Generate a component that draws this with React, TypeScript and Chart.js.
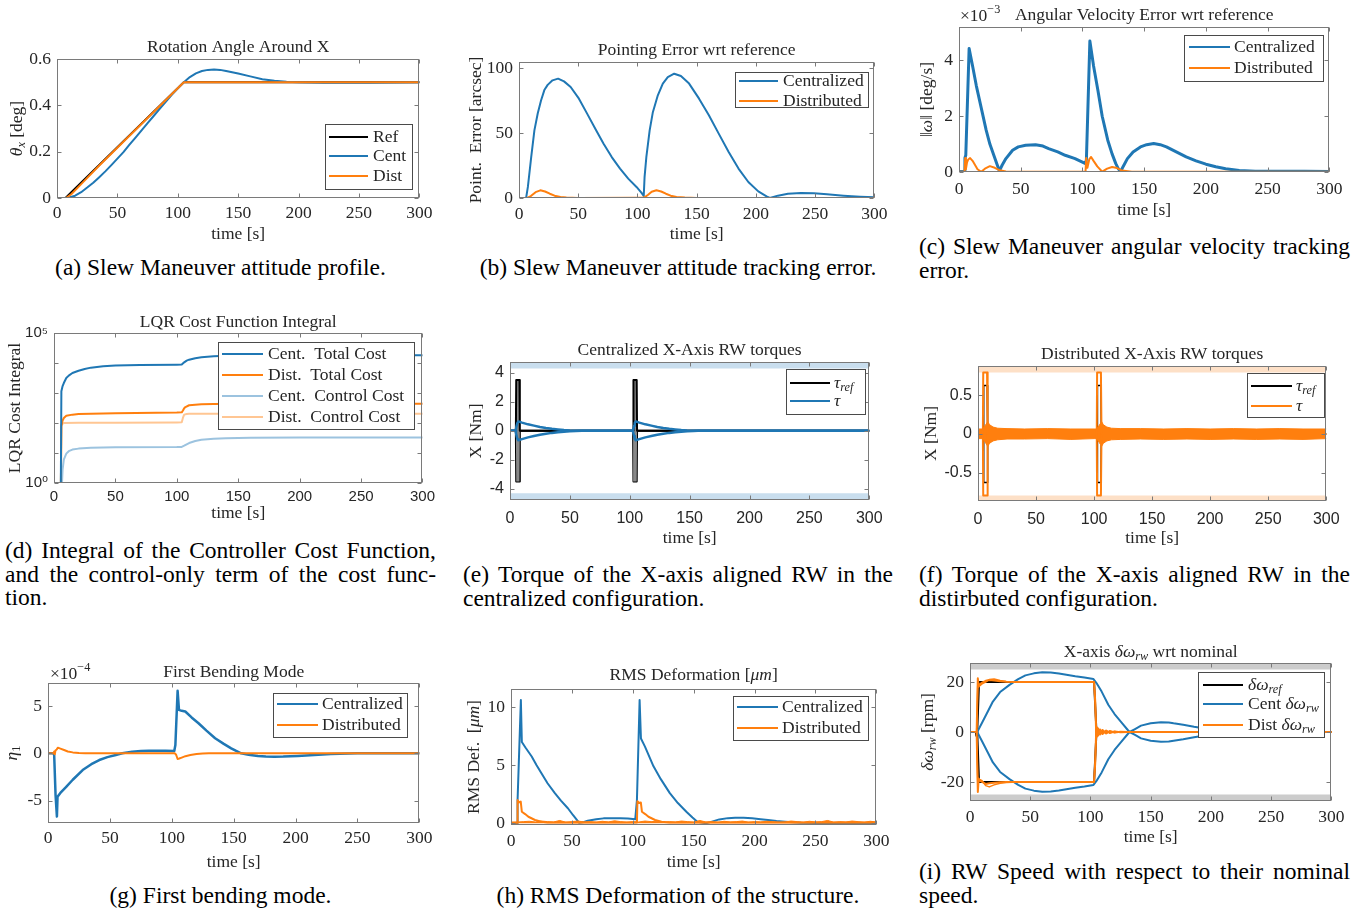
import React, { useEffect, useRef } from 'react';
import { Chart, registerables } from 'chart.js';
Chart.register(...registerables);

const SERIF = '"Liberation Serif", "DejaVu Serif", serif';
const SANS = '"Liberation Sans", "DejaVu Sans", sans-serif';
const TXT = '#262626';
const AXC = '#7a7a7a';
const BLUE = '#1f77b4';
const ORANGE = '#ff7f0e';
const BLACK = '#000000';
const LBLUE = '#9cc3df';
const LORANGE = '#ffc693';
const BAND_BLUE = '#c9deee';
const BAND_ORANGE = '#fde0c7';
const BAND_GRAY = '#cccccc';
const REF_FILL = '#888888';
const FS = 17.5;
const LFS = 17.5;

// ---------- shared axis ticks ----------
const TIME_TICKS = [0, 50, 100, 150, 200, 250, 300];
const TIME_LABELS = ['0', '50', '100', '150', '200', '250', '300'];

// ---------- (a) rotation angle [deg] ----------
const aRefT = [0, 7, 105, 300];
const aRefV = [0, 0, 0.5, 0.5];
const aDistT = [0, 7.5, 12, 20, 35, 105, 300];
const aDistV = [0, 0, 0.017, 0.06, 0.14, 0.5, 0.5];
const aCentT = [0, 7, 10, 15, 20, 25, 30, 35, 40, 45, 50, 55, 60, 65, 70, 75, 80, 85, 90, 95, 100, 105, 110, 115, 120, 125, 130, 135, 140, 150, 160, 170, 180, 190, 200, 210, 220, 240, 260, 280, 300];
const aCentV = [0, 0, 0.002, 0.01, 0.025, 0.045, 0.066, 0.09, 0.115, 0.142, 0.17, 0.198, 0.23, 0.261, 0.292, 0.323, 0.354, 0.385, 0.415, 0.445, 0.473, 0.5, 0.522, 0.538, 0.548, 0.553, 0.555, 0.553, 0.548, 0.537, 0.525, 0.513, 0.506, 0.502, 0.5, 0.499, 0.498, 0.497, 0.498, 0.499, 0.5];
const aYTicks = [0, 0.2, 0.4, 0.6];
const aYLabels = ['0', '0.2', '0.4', '0.6'];

// ---------- (b) pointing error [arcsec] ----------
const bCentT = [0, 6, 7.5, 10.3, 13, 15.8, 18.6, 21.4, 24.2, 28.3, 33, 38, 43.6, 50.6, 57.5, 64.4, 71.4, 78.3, 85.3, 92.2, 99.2, 103.3, 105.3, 106, 107.5, 110.3, 113, 117.2, 121.4, 125.6, 131, 136.7, 143.6, 152, 160.3, 168.6, 177, 185.3, 193.6, 202, 209, 211.7, 218.6, 227, 238, 249, 260, 274, 288, 300];
const bCentV = [0, 0, 8.5, 31.5, 52, 65, 75, 83, 87, 90.5, 91.8, 89.7, 85.4, 76.4, 64.9, 53.3, 41.8, 31.5, 22.6, 14.9, 8.5, 4.1, 1.5, 16, 31.5, 52, 66, 79, 88, 93, 95.6, 93.8, 88, 76.4, 63.6, 49.5, 35.4, 22.6, 12.3, 5.1, 1.3, 0, 1.8, 3.3, 3.8, 3.6, 2.8, 1.8, 1.0, 0.5];
const bDistT = [0, 7, 10, 14, 18, 22, 26, 30, 35, 40, 50, 100, 104, 106, 109, 112, 116, 120, 124, 128, 133, 140, 150, 300];
const bDistV = [0, 0, 1.5, 4.5, 5.9, 5, 3.3, 1.8, 0.8, 0.3, 0, 0.2, 0.2, 0.5, 2.5, 4.8, 5.9, 5, 3.3, 1.8, 0.8, 0.3, 0, 0];
const bYTicks = [0, 50, 100];
const bYLabels = ['0', '50', '100'];

// ---------- (c) angular velocity error [x1e-3 deg/s] ----------
const cCentT = [0, 4.5, 4.8, 5.5, 8.2, 11, 14, 18, 22, 25, 28.7, 31, 32.7, 35, 38, 43.4, 48, 54, 62, 68, 72.6, 80, 86, 94, 102.5, 103.2, 106, 109, 112.5, 116, 120.5, 124, 127, 129, 131, 133, 136.4, 141, 147, 152, 157.7, 163, 168, 176, 184, 192, 200, 208, 216, 227, 240, 260, 280, 300];
const cCentV = [0.02, 0.02, 0.5, 0.6, 4.43, 3.8, 3.1, 2.3, 1.5, 1.0, 0.54, 0.25, 0.04, 0.25, 0.48, 0.78, 0.9, 0.96, 0.98, 0.93, 0.84, 0.72, 0.6, 0.48, 0.3, 0.45, 4.7, 3.8, 2.93, 2.0, 1.14, 0.65, 0.3, 0.12, 0.02, 0.2, 0.48, 0.72, 0.9, 0.98, 1.02, 0.98, 0.9, 0.72, 0.54, 0.4, 0.28, 0.19, 0.12, 0.05, 0.03, 0.03, 0.03, 0.02];
const cDistT = [0, 4.5, 5, 5.6, 6.5, 7.5, 9, 11, 13, 15, 18, 21, 25, 29, 33, 38, 45, 100, 102.5, 103, 104, 105.5, 107, 109, 112, 116, 120, 124, 128, 132, 140, 300];
const cDistV = [0.01, 0.01, 0.5, 0.1, 0.35, 0.45, 0.5, 0.4, 0.25, 0.1, 0.01, 0.12, 0.21, 0.15, 0.06, 0.02, 0.01, 0.01, 0.01, 0.5, 0.15, 0.45, 0.54, 0.4, 0.2, 0.01, 0.12, 0.18, 0.14, 0.05, 0.01, 0.01];
const cYTicks = [0, 2, 4];
const cYLabels = ['0', '2', '4'];

// ---------- (d) LQR cost integral (log) ----------
const dCentTotT = [0, 5.3, 6, 7, 8, 10, 12, 15, 20, 25, 30, 40, 50, 70, 100, 104, 106, 108, 110, 115, 120, 130, 140, 160, 200, 250, 300];
const dCentTotV = [0.01, 0.01, 1140, 1700, 2150, 3160, 3800, 4640, 5500, 6300, 7000, 7800, 8300, 8600, 8800, 8850, 10500, 12000, 12900, 14500, 15500, 16800, 17500, 17900, 18000, 18000, 18000];
const dDistTotT = [0, 5.2, 6, 7, 8, 10, 15, 20, 30, 50, 100, 104, 105, 106, 107, 110, 120, 130, 150, 300];
const dDistTotV = [0.01, 0.01, 78, 120, 147, 175, 190, 200, 205, 210, 222, 227, 260, 310, 340, 390, 420, 430, 438, 440];
const dCentCtlT = [0, 6, 6.5, 7, 8, 10, 12, 15, 20, 30, 50, 100, 104, 106, 108, 110, 115, 120, 130, 140, 160, 200, 300];
const dCentCtlV = [0.01, 0.01, 1, 2.8, 6, 9.5, 11.5, 13, 14, 15, 15.5, 15.8, 16, 17.5, 19.5, 21.5, 25, 27.8, 30, 30.9, 32, 33, 33];
const dDistCtlT = [0, 5.2, 6, 8, 20, 50, 100, 104, 105, 106, 108, 110, 300];
const dDistCtlV = [0.01, 0.01, 88, 100, 101, 102, 104, 105, 150, 190, 200, 205, 205];
const dYTicks = [1, 10, 100, 1000, 10000, 100000];
const dYLabels = ['10⁰', '', '', '', '', '10⁵'];

// ---------- (e) centralized X-axis RW torques [Nm] ----------
const eRefT = [0, 4.9, 5.2, 7.9, 8.2, 102.8, 103.1, 105.8, 106.1, 300];
const eRefUpV = [0, 0, 3.5, 3.5, 0, 0, 3.5, 3.5, 0, 0];
const eRefLoV = [0, 0, -3.5, -3.5, 0, 0, -3.5, -3.5, 0, 0];
const eTauT = [0, 4.5, 5, 5.5, 6.2, 7, 10, 15, 20, 25, 30, 35, 40, 45, 50, 55, 60, 102.5, 103, 103.6, 104.2, 105, 108, 113, 118, 123, 128, 133, 138, 143, 148, 153, 157, 300];
const eTauUpV = [0, 0, 0.15, 0.35, 0.55, 0.65, 0.57, 0.45, 0.36, 0.27, 0.2, 0.14, 0.1, 0.06, 0.03, 0.01, 0, 0, 0.15, 0.35, 0.55, 0.65, 0.57, 0.45, 0.36, 0.27, 0.2, 0.14, 0.1, 0.06, 0.03, 0.01, 0, 0];
const eTauLoV = [0, 0, -0.15, -0.35, -0.55, -0.65, -0.57, -0.45, -0.36, -0.27, -0.2, -0.14, -0.1, -0.06, -0.03, -0.01, 0, 0, -0.15, -0.35, -0.55, -0.65, -0.57, -0.45, -0.36, -0.27, -0.2, -0.14, -0.1, -0.06, -0.03, -0.01, 0, 0];
const eSatT = [0, 300];
const eSatHi = [4.3, 4.3];
const eSatLo = [-4.3, -4.3];
const eYTicks = [-4, -2, 0, 2, 4];
const eYLabels = ['-4', '-2', '0', '2', '4'];

// ---------- (f) distributed X-axis RW torques [Nm] ----------
const fRefT = [0, 4.6, 4.9, 7.9, 8.3, 102.6, 102.9, 105.9, 106.3, 300];
const fRefUpV = [0, 0, 0.63, 0.63, 0, 0, 0.63, 0.63, 0, 0];
const fRefLoV = [0, 0, -0.63, -0.63, 0, 0, -0.63, -0.63, 0, 0];
const fSpikeT = [0, 4.2, 4.5, 7.8, 8.3, 102.3, 102.6, 105.9, 106.4, 300];
const fSpikeUpV = [0, 0, 0.8, 0.8, 0, 0, 0.8, 0.8, 0, 0];
const fSpikeLoV = [0, 0, -0.8, -0.8, 0, 0, -0.8, -0.8, 0, 0];
const fNoiseT = [0, 4.2, 8.4, 10, 13, 17, 25, 40, 60, 80, 100, 102.3, 106.5, 108, 111, 115, 123, 140, 160, 180, 200, 220, 240, 260, 280, 300];
const fNoiseHi = [0.065, 0.065, 0.16, 0.12, 0.09, 0.075, 0.07, 0.065, 0.07, 0.065, 0.065, 0.065, 0.16, 0.12, 0.09, 0.075, 0.07, 0.07, 0.065, 0.07, 0.065, 0.07, 0.065, 0.07, 0.065, 0.065];
const fNoiseLo = [-0.06, -0.06, -0.16, -0.12, -0.09, -0.075, -0.065, -0.065, -0.06, -0.07, -0.06, -0.06, -0.16, -0.12, -0.09, -0.075, -0.07, -0.065, -0.07, -0.065, -0.07, -0.065, -0.07, -0.065, -0.07, -0.06];
const fSatT = [0, 300];
const fSatHi = [0.8, 0.8];
const fSatLo = [-0.8, -0.8];
const fYTicks = [-0.5, 0, 0.5];
const fYLabels = ['-0.5', '0', '0.5'];

// ---------- (g) first bending mode [x1e-4] ----------
const gCentT = [0, 4.5, 5, 6.1, 7.2, 7.7, 10, 14.7, 20, 28, 35, 41.4, 48, 54.8, 60, 68, 75, 81.5, 90, 95, 102, 102.9, 104.7, 105.8, 108, 110.9, 116, 121.6, 128, 135, 142, 148, 152, 156, 162, 169.6, 176, 183, 190, 201.8, 215, 228.5, 250, 270, 300];
const gCentV = [0, 0, -0.2, -4.4, -6.7, -4.6, -4.2, -3.55, -2.8, -1.77, -1.15, -0.71, -0.4, -0.18, 0, 0.18, 0.25, 0.28, 0.28, 0.27, 0.25, 0.89, 6.63, 4.6, 4.5, 4.43, 3.8, 3.19, 2.4, 1.6, 1.0, 0.53, 0.25, 0, -0.15, -0.28, -0.33, -0.35, -0.34, -0.28, -0.18, -0.07, 0, 0, 0];
const gDistT = [0, 4.5, 5, 5.5, 6, 7, 8, 10, 13, 16, 20, 25, 30, 100, 102.5, 103.5, 104.7, 106, 108, 111, 115, 120, 125, 130, 300];
const gDistV = [0, 0, 0.2, -0.1, 0.3, 0.4, 0.6, 0.5, 0.35, 0.2, 0.1, 0.03, 0, 0, 0, -0.15, -0.6, -0.55, -0.45, -0.3, -0.18, -0.08, -0.02, 0, 0];
const gYTicks = [-5, 0, 5];
const gYLabels = ['-5', '0', '5'];

// ---------- (h) RMS deformation [um] ----------
const hCentT = [0, 5, 5.4, 8.1, 8.9, 12, 17, 21, 25, 30, 36, 41, 46.7, 51, 56, 60, 63, 70, 76, 83, 90, 96, 102, 103.4, 105.6, 106.7, 110, 117, 123, 130.4, 137, 144, 149, 153, 160, 165, 171, 178, 184, 191, 198, 205, 211, 218, 225, 238, 250, 270, 300];
const hCentV = [0, 0, 2.0, 10.6, 7.0, 6.5, 5.75, 5.0, 4.3, 3.45, 2.6, 1.95, 1.3, 0.7, 0.05, 0.12, 0.23, 0.35, 0.43, 0.45, 0.43, 0.42, 0.35, 2.0, 10.6, 7.3, 6.6, 4.9, 3.8, 2.6, 1.75, 1.0, 0.5, 0.14, 0, 0.15, 0.34, 0.45, 0.49, 0.48, 0.43, 0.36, 0.29, 0.2, 0.14, 0.05, 0.03, 0.02, 0.02];
const hSpikeT = [0, 5, 5.4, 6.5, 8, 8.9, 11.6, 14.3, 19.7, 25, 30, 100, 103.4, 103.8, 105, 106.6, 107.5, 110.2, 112.9, 118.3, 123.6, 130, 300];
const hSpikeV = [0.05, 0.05, 2.0, 1.8, 1.87, 1.0, 0.8, 0.57, 0.29, 0.14, 0.08, 0.08, 0.08, 1.9, 1.75, 1.8, 1.0, 0.8, 0.57, 0.29, 0.14, 0.08, 0.08];
const hNoiseT = [0, 5, 10, 15, 20, 25, 30, 35, 40, 45, 50, 55, 60, 65, 70, 75, 80, 85, 90, 95, 100, 105, 110, 115, 120, 125, 130, 135, 140, 145, 150, 155, 160, 165, 170, 175, 180, 185, 190, 195, 200, 205, 210, 215, 220, 225, 230, 235, 240, 245, 250, 255, 260, 265, 270, 275, 280, 285, 290, 295, 300];
const hNoiseV = [0.10, 0.12, 0.15, 0.18, 0.12, 0.20, 0.15, 0.12, 0.25, 0.10, 0.15, 0.20, 0.12, 0.15, 0.10, 0.18, 0.12, 0.22, 0.15, 0.10, 0.15, 0.12, 0.20, 0.15, 0.18, 0.10, 0.15, 0.12, 0.20, 0.15, 0.10, 0.25, 0.12, 0.15, 0.10, 0.18, 0.12, 0.15, 0.20, 0.10, 0.15, 0.12, 0.18, 0.15, 0.10, 0.12, 0.20, 0.15, 0.10, 0.18, 0.12, 0.15, 0.25, 0.10, 0.15, 0.12, 0.20, 0.15, 0.10, 0.18, 0.12];
const hYTicks = [0, 5, 10];
const hYLabels = ['0', '5', '10'];

// ---------- (i) RW speed wrt nominal [rpm] ----------
const iRefT = [0, 5, 5.5, 6, 7.5, 103, 105, 300];
const iRefUpV = [0, 0, -1.5, 0, 20, 20, 0, 0];
const iRefLoV = [0, 0, -1.5, 0, -20, -20, 0, 0];
const iCentT = [0, 6, 10, 15, 19, 25, 32.8, 40, 46, 53, 60, 67, 73.8, 80, 87.4, 95, 102.5, 105, 109.3, 114.8, 120, 125.7, 131, 132.5, 137, 142, 150, 158.5, 165, 169, 177, 186, 195, 205, 220, 240, 260, 280, 300];
const iCentUpV = [0, 0, 3.7, 8.4, 12.2, 16, 18.9, 21.2, 22.7, 23.5, 23.9, 23.8, 23.4, 22.9, 22.3, 21.8, 21.2, 19.6, 16.2, 10.9, 7.2, 3.9, 0.8, 0, -1.2, -2.55, -3.5, -3.9, -3.85, -3.5, -2.9, -2.1, -1.4, -0.8, -0.35, -0.1, -0.03, 0, 0];
const iCentLoV = [0, 0, -3.7, -8.4, -12.2, -16, -18.9, -21.2, -22.7, -23.5, -23.9, -23.8, -23.4, -22.9, -22.3, -21.8, -21.2, -19.6, -16.2, -10.9, -7.2, -3.9, -0.8, 0, 1.2, 2.55, 3.5, 3.9, 3.85, 3.5, 2.9, 2.1, 1.4, 0.8, 0.35, 0.1, 0.03, 0, 0];
const iDistT = [0, 5.5, 6.5, 7.2, 8, 10, 13, 16, 20, 25, 30, 40, 103, 104, 104.8, 105.5, 106.5, 108, 110, 113, 116, 120, 125, 130, 140, 300];
const iDistUp1 = [0, 0, 21.5, 18.5, 19, 19.8, 20.5, 20.8, 20.6, 20.3, 20.1, 20, 20, 12, -1.5, 1.8, -1.2, 1.0, -0.8, 0.6, -0.4, 0.2, -0.1, 0, 0, 0];
const iDistLo1 = [0, 0, -24, -19, -19.5, -20, -20.8, -20.5, -20.3, -20.1, -20, -20, -20, -12, 1.5, -1.8, 1.2, -1.0, 0.8, -0.6, 0.4, -0.2, 0.1, 0, 0, 0];
const iDistUp2 = [0, 0, 20.5, 18, 18.5, 19.3, 20, 21, 21.2, 20.6, 20.2, 20, 20, 10, 1.2, -1.5, 1.5, -0.9, 0.7, -0.5, 0.3, -0.2, 0.1, 0, 0, 0];
const iDistLo2 = [0, 0, -22, -18.5, -19, -19.5, -21.5, -22, -21.2, -20.5, -20.2, -20, -20, -10, -1.2, 1.5, -1.5, 0.9, -0.7, 0.5, -0.3, 0.2, -0.1, 0, 0, 0];
const iSatT = [0, 300];
const iSatHi = [25, 25];
const iSatLo = [-25, -25];
const iYTicks = [-20, 0, 20];
const iYLabels = ['-20', '0', '20'];

// ---------- helpers ----------
type Seg = { t: string; it?: boolean; sub?: boolean; sup?: boolean };
type Leg = { ds: number; segs: Seg[] };
type Spec = {
  box: [number, number, number, number];
  yTicks: number[]; yLabels: string[];
  yMin: number; yMax: number; yLog?: boolean;
  tickFamily: string; tickSize: number;
  xTickY: number;
  title: Seg[]; titleY: number;
  xlabel: Seg[]; xlabelY: number;
  ylabel: Seg[]; ylabelX: number;
  exp?: { segs: Seg[]; x: number; y: number };
  legend: { box: [number, number, number, number]; rows: number[]; line: [number, number]; textX: number; items: Leg[] };
  datasets: any[];
};

const pts = (t: number[], v: number[]) => t.map((x, i) => ({ x, y: v[i] }));
function ln(t: number[], v: number[], color: string, width: number, order: number, extra: any = {}) {
  return { data: pts(t, v), borderColor: color, backgroundColor: color, borderWidth: width, pointRadius: 0, fill: false, order, tension: 0, borderJoinStyle: 'round', borderCapStyle: 'round', ...extra };
}
function band(t: number[], v: number[], color: string, to: string) {
  return { data: pts(t, v), borderColor: color, backgroundColor: color, borderWidth: 0, pointRadius: 0, fill: to, order: 20, tension: 0 };
}

function segFont(s: Seg, size: number) {
  const sz = s.sub || s.sup ? size * 0.7 : size;
  return `${s.it ? 'italic ' : ''}${sz}px ${SERIF}`;
}
function drawRich(ctx: CanvasRenderingContext2D, segs: Seg[], x: number, y: number, size: number, align: 'left' | 'center') {
  let w = 0;
  for (const s of segs) { ctx.font = segFont(s, size); w += ctx.measureText(s.t).width; }
  let cx = align === 'center' ? x - w / 2 : x;
  ctx.textAlign = 'left';
  ctx.textBaseline = 'middle';
  ctx.fillStyle = TXT;
  for (const s of segs) {
    ctx.font = segFont(s, size);
    const dy = s.sub ? size * 0.3 : s.sup ? -size * 0.38 : 0;
    ctx.fillText(s.t, cx, y + dy);
    cx += ctx.measureText(s.t).width;
  }
}

function makeDecor(spec: Spec, ox: number, oy: number) {
  return {
    id: 'decor',
    afterDraw(chart: any) {
      const ctx = chart.ctx as CanvasRenderingContext2D;
      const ca = chart.chartArea;
      const xs = chart.scales.x, ys = chart.scales.y;
      ctx.save();
      ctx.strokeStyle = AXC;
      ctx.lineWidth = 1;
      const l = Math.round(ca.left) + 0.5, r = Math.round(ca.right) - 0.5;
      const t = Math.round(ca.top) + 0.5, b = Math.round(ca.bottom) - 0.5;
      ctx.strokeRect(l, t, r - l, b - t);
      ctx.beginPath();
      const TL = 4;
      for (const v of TIME_TICKS) {
        const p = Math.round(xs.getPixelForValue(v)) + 0.5;
        ctx.moveTo(p, b); ctx.lineTo(p, b - TL);
        ctx.moveTo(p, t); ctx.lineTo(p, t + TL);
      }
      for (const v of spec.yTicks) {
        const p = Math.round(ys.getPixelForValue(v)) + 0.5;
        ctx.moveTo(l, p); ctx.lineTo(l + TL, p);
        ctx.moveTo(r, p); ctx.lineTo(r - TL, p);
      }
      ctx.stroke();
      const cx = (ca.left + ca.right) / 2;
      drawRich(ctx, spec.title, cx, spec.titleY - oy, FS, 'center');
      drawRich(ctx, spec.xlabel, cx, spec.xlabelY - oy, FS, 'center');
      ctx.save();
      ctx.translate(spec.ylabelX - ox, (ca.top + ca.bottom) / 2);
      ctx.rotate(-Math.PI / 2);
      drawRich(ctx, spec.ylabel, 0, 0, FS, 'center');
      ctx.restore();
      if (spec.exp) drawRich(ctx, spec.exp.segs, spec.exp.x - ox, spec.exp.y - oy, FS, 'left');
      const lg = spec.legend;
      const [bx0, by0, bx1, by1] = lg.box;
      ctx.fillStyle = '#ffffff';
      ctx.fillRect(bx0 - ox, by0 - oy, bx1 - bx0, by1 - by0);
      ctx.strokeStyle = '#4a4a4a';
      ctx.lineWidth = 1;
      ctx.strokeRect(bx0 - ox + 0.5, by0 - oy + 0.5, bx1 - bx0, by1 - by0);
      lg.items.forEach((it, i) => {
        const ds = chart.data.datasets[it.ds];
        const y = lg.rows[i] - oy;
        ctx.strokeStyle = ds.borderColor;
        ctx.lineWidth = 2;
        ctx.beginPath();
        ctx.moveTo(lg.line[0] - ox, y);
        ctx.lineTo(lg.line[1] - ox, y);
        ctx.stroke();
        drawRich(ctx, it.segs, lg.textX - ox, y, LFS, 'left');
      });
      ctx.restore();
    },
  };
}

function Panel({ spec }: { spec: Spec }) {
  const ref = useRef<HTMLCanvasElement>(null);
  const [L, T, R, B] = spec.box;
  const x0 = Math.max(0, L - 58), y0 = Math.max(0, T - 48);
  const x1 = Math.min(1364, R + 14), y1 = B + 48;
  const w = x1 - x0, h = y1 - y0;
  useEffect(() => {
    const YW = 40, XH = 30;
    const tickFont = { family: spec.tickFamily, size: spec.tickSize };
    const chart = new Chart(ref.current as HTMLCanvasElement, {
      type: 'line',
      data: { datasets: spec.datasets },
      options: {
        animation: false,
        responsive: false,
        devicePixelRatio: 1,
        events: [],
        layout: { padding: { left: L - x0 - YW, top: T - y0, right: x1 - R, bottom: y1 - B - XH } },
        plugins: { legend: { display: false }, tooltip: { enabled: false }, title: { display: false } },
        scales: {
          x: {
            type: 'linear', position: 'bottom', min: 0, max: 300,
            grid: { display: false, drawTicks: false }, border: { display: false },
            ticks: {
              font: tickFont, color: TXT, maxRotation: 0, minRotation: 0, autoSkip: false,
              padding: spec.xTickY - B - spec.tickSize * 0.6,
              callback: (_v: any, i: number) => TIME_LABELS[i],
            },
            afterBuildTicks: (s: any) => { s.ticks = TIME_TICKS.map((v) => ({ value: v })); },
            afterFit: (s: any) => { s.height = XH; },
          },
          y: {
            type: spec.yLog ? 'logarithmic' : 'linear', position: 'left', min: spec.yMin, max: spec.yMax,
            grid: { display: false, drawTicks: false }, border: { display: false },
            ticks: {
              font: tickFont, color: TXT, autoSkip: false, padding: 6,
              callback: (_v: any, i: number) => spec.yLabels[i],
            },
            afterBuildTicks: (s: any) => { s.ticks = spec.yTicks.map((v) => ({ value: v })); },
            afterFit: (s: any) => { s.width = YW; },
          },
        },
      } as any,
      plugins: [makeDecor(spec, x0, y0)],
    });
    return () => chart.destroy();
  }, []);
  return <canvas ref={ref} width={w} height={h} style={{ position: 'absolute', left: x0, top: y0, width: w, height: h }} />;
}

const TIME: Seg[] = [{ t: 'time [s]' }];

const specs: Spec[] = [
  {
    box: [57, 59, 423, 198], yTicks: aYTicks, yLabels: aYLabels, yMin: 0, yMax: 0.6,
    tickFamily: SERIF, tickSize: FS, xTickY: 213,
    title: [{ t: 'Rotation Angle Around X' }], titleY: 47,
    xlabel: TIME, xlabelY: 234,
    ylabel: [{ t: 'θ', it: true }, { t: 'x', it: true, sub: true }, { t: ' [deg]' }], ylabelX: 17,
    legend: { box: [325, 124, 412, 189], rows: [137, 156, 176], line: [329, 368], textX: 373,
      items: [{ ds: 0, segs: [{ t: 'Ref' }] }, { ds: 1, segs: [{ t: 'Cent' }] }, { ds: 2, segs: [{ t: 'Dist' }] }] },
    datasets: [ln(aRefT, aRefV, BLACK, 2, 3), ln(aCentT, aCentV, BLUE, 2, 2), ln(aDistT, aDistV, ORANGE, 2, 1)],
  },
  {
    box: [519, 62, 879, 198], yTicks: bYTicks, yLabels: bYLabels, yMin: 0, yMax: 104.6,
    tickFamily: SERIF, tickSize: FS, xTickY: 214,
    title: [{ t: 'Pointing Error wrt reference' }], titleY: 50,
    xlabel: TIME, xlabelY: 234,
    ylabel: [{ t: 'Point.  Error [arcsec]' }], ylabelX: 476,
    legend: { box: [735, 72, 868, 107], rows: [81, 101], line: [739, 778], textX: 783,
      items: [{ ds: 0, segs: [{ t: 'Centralized' }] }, { ds: 1, segs: [{ t: 'Distributed' }] }] },
    datasets: [ln(bCentT, bCentV, BLUE, 2, 2), ln(bDistT, bDistV, ORANGE, 2, 1)],
  },
  {
    box: [959, 27, 1335, 172], yTicks: cYTicks, yLabels: cYLabels, yMin: 0, yMax: 5.2,
    tickFamily: SERIF, tickSize: FS, xTickY: 189,
    title: [{ t: 'Angular Velocity Error wrt reference' }], titleY: 15,
    exp: { segs: [{ t: '×10' }, { t: '−3', sup: true }], x: 960, y: 16 },
    xlabel: TIME, xlabelY: 210,
    ylabel: [{ t: '‖' }, { t: 'ω', it: true }, { t: '‖ [deg/s]' }], ylabelX: 927,
    legend: { box: [1184, 35, 1323, 81], rows: [47, 68], line: [1189, 1230], textX: 1234,
      items: [{ ds: 0, segs: [{ t: 'Centralized' }] }, { ds: 1, segs: [{ t: 'Distributed' }] }] },
    datasets: [ln(cCentT, cCentV, BLUE, 3, 2), ln(cDistT, cDistV, ORANGE, 2, 1)],
  },
  {
    box: [54, 333, 426, 483], yTicks: dYTicks, yLabels: dYLabels, yMin: 1, yMax: 100000, yLog: true,
    tickFamily: SANS, tickSize: 15, xTickY: 497,
    title: [{ t: 'LQR Cost Function Integral' }], titleY: 322,
    xlabel: TIME, xlabelY: 513,
    ylabel: [{ t: 'LQR Cost Integral' }], ylabelX: 15,
    legend: { box: [218, 342, 414, 429], rows: [354, 375, 396, 417], line: [222, 263], textX: 268,
      items: [
        { ds: 0, segs: [{ t: 'Cent.  Total Cost' }] }, { ds: 1, segs: [{ t: 'Dist.  Total Cost' }] },
        { ds: 2, segs: [{ t: 'Cent.  Control Cost' }] }, { ds: 3, segs: [{ t: 'Dist.  Control Cost' }] }] },
    datasets: [ln(dCentTotT, dCentTotV, BLUE, 2, 1), ln(dDistTotT, dDistTotV, ORANGE, 2, 2),
      ln(dCentCtlT, dCentCtlV, LBLUE, 2, 3), ln(dDistCtlT, dDistCtlV, LORANGE, 2, 4)],
  },
  {
    box: [510, 362, 878, 500], yTicks: eYTicks, yLabels: eYLabels, yMin: -4.77, yMax: 4.75,
    tickFamily: SANS, tickSize: 16, xTickY: 519,
    title: [{ t: 'Centralized X-Axis RW torques' }], titleY: 350,
    xlabel: TIME, xlabelY: 538,
    ylabel: [{ t: 'X [Nm]' }], ylabelX: 476,
    legend: { box: [786, 369, 865, 414], rows: [383, 401], line: [790, 830], textX: 834,
      items: [{ ds: 0, segs: [{ t: 'τ', it: true }, { t: 'ref', it: true, sub: true }] }, { ds: 2, segs: [{ t: 'τ', it: true }] }] },
    datasets: [
      ln(eRefT, eRefUpV, BLACK, 2, 5, { fill: '+1', backgroundColor: REF_FILL }), ln(eRefT, eRefLoV, BLACK, 2, 5),
      ln(eTauT, eTauUpV, BLUE, 2.5, 1), ln(eTauT, eTauLoV, BLUE, 2.5, 1),
      band(eSatT, eSatHi, BAND_BLUE, 'end'), band(eSatT, eSatLo, BAND_BLUE, 'start')],
  },
  {
    box: [978, 366, 1335, 501], yTicks: fYTicks, yLabels: fYLabels, yMin: -0.87, yMax: 0.883,
    tickFamily: SANS, tickSize: 16, xTickY: 520,
    title: [{ t: 'Distributed X-Axis RW torques' }], titleY: 354,
    xlabel: TIME, xlabelY: 538,
    ylabel: [{ t: 'X [Nm]' }], ylabelX: 931,
    legend: { box: [1247, 373, 1324, 417], rows: [386, 406], line: [1251, 1292], textX: 1296,
      items: [{ ds: 0, segs: [{ t: 'τ', it: true }, { t: 'ref', it: true, sub: true }] }, { ds: 2, segs: [{ t: 'τ', it: true }] }] },
    datasets: [
      ln(fRefT, fRefUpV, BLACK, 1.5, 5), ln(fRefT, fRefLoV, BLACK, 1.5, 5),
      ln(fNoiseT, fNoiseHi, ORANGE, 1, 2, { fill: '+1' }), ln(fNoiseT, fNoiseLo, ORANGE, 1, 2),
      ln(fSpikeT, fSpikeUpV, ORANGE, 2, 1), ln(fSpikeT, fSpikeLoV, ORANGE, 2, 1),
      band(fSatT, fSatHi, BAND_ORANGE, 'end'), band(fSatT, fSatLo, BAND_ORANGE, 'start')],
  },
  {
    box: [48, 683, 423, 823], yTicks: gYTicks, yLabels: gYLabels, yMin: -7.38, yMax: 7.45,
    tickFamily: SERIF, tickSize: FS, xTickY: 838,
    title: [{ t: 'First Bending Mode' }], titleY: 672,
    exp: { segs: [{ t: '×10' }, { t: '−4', sup: true }], x: 50, y: 674 },
    xlabel: TIME, xlabelY: 862,
    ylabel: [{ t: 'η', it: true }, { t: '1', sub: true }], ylabelX: 12,
    legend: { box: [273, 693, 407, 737], rows: [704, 725], line: [277, 318], textX: 322,
      items: [{ ds: 0, segs: [{ t: 'Centralized' }] }, { ds: 1, segs: [{ t: 'Distributed' }] }] },
    datasets: [ln(gCentT, gCentV, BLUE, 2.5, 2), ln(gDistT, gDistV, ORANGE, 2, 1)],
  },
  {
    box: [511, 689, 881, 825], yTicks: hYTicks, yLabels: hYLabels, yMin: -0.14, yMax: 11.55,
    tickFamily: SERIF, tickSize: FS, xTickY: 841,
    title: [{ t: 'RMS Deformation [' }, { t: 'μm', it: true }, { t: ']' }], titleY: 675,
    xlabel: TIME, xlabelY: 862,
    ylabel: [{ t: 'RMS Def.  [' }, { t: 'μm', it: true }, { t: ']' }], ylabelX: 474,
    legend: { box: [733, 696, 868, 740], rows: [707, 728], line: [737, 778], textX: 782,
      items: [{ ds: 0, segs: [{ t: 'Centralized' }] }, { ds: 1, segs: [{ t: 'Distributed' }] }] },
    datasets: [ln(hCentT, hCentV, BLUE, 2, 2), ln(hSpikeT, hSpikeV, ORANGE, 2, 1),
      ln(hNoiseT, hNoiseV, ORANGE, 1, 1, { fill: 'origin' })],
  },
  {
    box: [970, 663, 1336, 801], yTicks: iYTicks, yLabels: iYLabels, yMin: -27.65, yMax: 27.65,
    tickFamily: SERIF, tickSize: FS, xTickY: 817,
    title: [{ t: 'X-axis ' }, { t: 'δω', it: true }, { t: 'rw', it: true, sub: true }, { t: ' wrt nominal' }], titleY: 652,
    xlabel: TIME, xlabelY: 837,
    ylabel: [{ t: 'δω', it: true }, { t: 'rw', it: true, sub: true }, { t: ' [rpm]' }], ylabelX: 928,
    legend: { box: [1198, 672, 1324, 737], rows: [685, 704, 725], line: [1203, 1243], textX: 1248,
      items: [
        { ds: 0, segs: [{ t: 'δω', it: true }, { t: 'ref', it: true, sub: true }] },
        { ds: 2, segs: [{ t: 'Cent ' }, { t: 'δω', it: true }, { t: 'rw', it: true, sub: true }] },
        { ds: 4, segs: [{ t: 'Dist ' }, { t: 'δω', it: true }, { t: 'rw', it: true, sub: true }] }] },
    datasets: [
      ln(iRefT, iRefUpV, BLACK, 2, 3), ln(iRefT, iRefLoV, BLACK, 2, 3),
      ln(iCentT, iCentUpV, BLUE, 2, 2), ln(iCentT, iCentLoV, BLUE, 2, 2),
      ln(iDistT, iDistUp1, ORANGE, 2, 1), ln(iDistT, iDistLo1, ORANGE, 2, 1),
      ln(iDistT, iDistUp2, ORANGE, 1.5, 1), ln(iDistT, iDistLo2, ORANGE, 1.5, 1),
      band(iSatT, iSatHi, BAND_GRAY, 'end'), band(iSatT, iSatLo, BAND_GRAY, 'start')],
  },
];

type Cap = { left: number; top: number; width: number; lines: string[]; center?: boolean };
const captions: Cap[] = [
  { left: 5, top: 256, width: 431, center: true, lines: ['(a) Slew Maneuver attitude profile.'] },
  { left: 463, top: 256, width: 430, center: true, lines: ['(b) Slew Maneuver attitude tracking error.'] },
  { left: 919, top: 235, width: 431, lines: ['(c) Slew Maneuver angular velocity tracking', 'error.'] },
  { left: 5, top: 539, width: 431, lines: ['(d) Integral of the Controller Cost Function,', 'and the control-only term of the cost func-', 'tion.'] },
  { left: 463, top: 563, width: 430, lines: ['(e) Torque of the X-axis aligned RW in the', 'centralized configuration.'] },
  { left: 919, top: 563, width: 431, lines: ['(f) Torque of the X-axis aligned RW in the', 'distirbuted configuration.'] },
  { left: 5, top: 884, width: 431, center: true, lines: ['(g) First bending mode.'] },
  { left: 463, top: 884, width: 430, center: true, lines: ['(h) RMS Deformation of the structure.'] },
  { left: 919, top: 860, width: 431, lines: ['(i) RW Speed with respect to their nominal', 'speed.'] },
];

export default function App() {
  return (
    <div style={{ position: 'absolute', left: 0, top: 0, width: 1364, height: 913, background: '#ffffff', overflow: 'hidden' }}>
      {specs.map((s, i) => <Panel key={i} spec={s} />)}
      {captions.map((c, i) => (
        <div key={'c' + i} style={{ position: 'absolute', left: c.left, top: c.top, width: c.width, font: `23.5px ${SERIF}`, lineHeight: '23.5px', color: '#000' }}>
          {c.lines.map((l, j) => {
            const just = !c.center && j < c.lines.length - 1;
            const align = c.center ? 'center' : just ? 'justify' : 'left';
            return (
              <div key={j} style={{ whiteSpace: 'nowrap', textAlign: align, textAlignLast: align } as any}>{l}</div>
            );
          })}
        </div>
      ))}
    </div>
  );
}
